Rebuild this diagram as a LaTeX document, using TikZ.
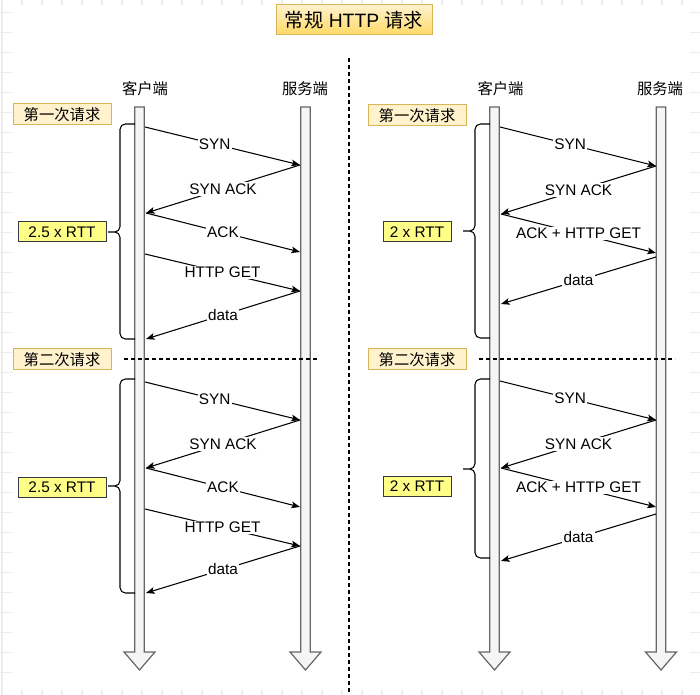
\documentclass[tikz,border=0pt]{standalone}
\usepackage{fontspec}
\setmainfont{Liberation Sans}
\newfontfamily\cjk{Noto Sans CJK SC}
\usepackage{xcolor}
\usetikzlibrary{arrows.meta}
\definecolor{barfill}{HTML}{F5F5F5}
\definecolor{bardraw}{HTML}{666666}
\definecolor{tagfill}{HTML}{FFF2CC}
\definecolor{tagdraw}{HTML}{D6B656}
\definecolor{titlelow}{HTML}{FFD966}
\definecolor{notefill}{HTML}{FFFF88}
\definecolor{notedraw}{HTML}{36393D}
\definecolor{gridgray}{HTML}{EDEDED}

\begin{document}
\begin{tikzpicture}[x=0.75pt,y=-0.75pt,font=\fontsize{11.5}{13}\selectfont,
>={Stealth[length=6.5pt,width=5pt,inset=1.5pt]},
gridline/.style={draw=gridgray,line width=0.9pt},
lifeline/.style={fill=barfill,draw=bardraw,line width=0.9pt},
titlebox/.style={draw=tagdraw,top color=tagfill,bottom color=titlelow,line width=0.75pt,minimum width=117pt,minimum height=22.5pt,inner sep=0pt,font=\fontsize{14.5}{17}\selectfont},
tag/.style={draw=tagdraw,fill=tagfill,line width=0.75pt,minimum width=73.5pt,minimum height=15.75pt,inner sep=0pt},
note/.style={draw=notedraw,fill=notefill,line width=0.75pt,minimum height=15pt,inner sep=0pt},
brace/.style={line width=0.8pt,rounded corners=4pt},
sep/.style={line width=0.8pt,dash pattern=on 3pt off 2.25pt},
msg/.style={->,line width=0.8pt},
lab/.style={fill=white,inner sep=1pt}]
\useasboundingbox (0,0) rectangle (700,695);
% page grid behind the white sheet
\foreach \gx in {2,22,...,682} \draw[gridline] (\gx,0) -- (\gx,695);
\foreach \gy in {12.7,32.7,...,692} \draw[gridline] (0,\gy) -- (700,\gy);
\fill[white] (13,5) rectangle (690,690);
\node[titlebox] (title) at (354,20) {{\cjk 常规} HTTP {\cjk 请求}};
\draw[sep] (349,58) -- (349,695);
% lifelines
\foreach \cx in {139.5,305.5,494.5,661}
  \draw[lifeline] ({\cx-4.75},107) -- ({\cx+4.75},107) -- ({\cx+4.75},652) -- ({\cx+15.5},652)
    -- (\cx,670) -- ({\cx-15.5},652) -- ({\cx-4.75},652) -- cycle;
\node (cli1) at (145,89) {\cjk 客户端};
\node (srv1) at (305,89) {\cjk 服务端};
\node (cli2) at (500.5,89) {\cjk 客户端};
\node (srv2) at (660,89) {\cjk 服务端};
% left: regular requests
\node[tag] (first1) at (62,114.5) {\cjk 第一次请求};
\node[tag] (second1) at (62,359.5) {\cjk 第二次请求};
\draw[sep] (124,359) -- (319,359);
\draw[brace] (135,124) -| (120,232) -- (108,232) (135,339) -| (120,232) -- (108,232);
\draw[brace] (135,379) -| (120,486) -- (108,486) (135,593) -| (120,486) -- (108,486);
\node[note,minimum width=66pt] (rtt1) at (62,232) {2.5 x RTT};
\node[note,minimum width=66pt] (rtt2) at (62,487) {2.5 x RTT};
\path (145,127) coordinate (l1a) (300,165) coordinate (l1b) (146,213) coordinate (l1c) (300,252) coordinate (l1d)
  (145,254) coordinate (l1e) (300,291) coordinate (l1f) (146,339) coordinate (l1g);
\path (145,382) coordinate (l2a) (300,420) coordinate (l2b) (146,468) coordinate (l2c) (300,507) coordinate (l2d)
  (145,509) coordinate (l2e) (300,546) coordinate (l2f) (146,593) coordinate (l2g);
\draw[msg] (l1a) -- node[lab,pos=.45] {SYN} (l1b);
\draw[msg] (l1b) -- node[lab] {SYN ACK} (l1c);
\draw[msg] (l1c) -- node[lab] {ACK} (l1d);
\draw[msg] (l1e) -- node[lab] {HTTP GET} (l1f);
\draw[msg] (l1f) -- node[lab] {data} (l1g);
\draw[msg] (l2a) -- node[lab,pos=.45] {SYN} (l2b);
\draw[msg] (l2b) -- node[lab] {SYN ACK} (l2c);
\draw[msg] (l2c) -- node[lab] {ACK} (l2d);
\draw[msg] (l2e) -- node[lab] {HTTP GET} (l2f);
\draw[msg] (l2f) -- node[lab] {data} (l2g);
% right: ACK sent together with HTTP GET
\node[tag] (first2) at (417,115.5) {\cjk 第一次请求};
\node[tag] (second2) at (417,359.5) {\cjk 第二次请求};
\draw[sep] (479,359) -- (675,359);
\draw[brace] (490,124) -| (475,231) -- (463,231) (490,338) -| (475,231) -- (463,231);
\draw[brace] (490,379) -| (475,469) -- (463,469) (490,558) -| (475,469) -- (463,469);
\node[note,minimum width=51pt] (rtt3) at (417,232) {2 x RTT};
\node[note,minimum width=51pt] (rtt4) at (417,486) {2 x RTT};
\path (500,127) coordinate (r1a) (656,166) coordinate (r1b) (501,214) coordinate (r1c) (656,253) coordinate (r1d)
  (656,257) coordinate (r1e) (501,304) coordinate (r1f);
\path (500,381) coordinate (r2a) (656,420) coordinate (r2b) (501,468) coordinate (r2c) (656,507) coordinate (r2d)
  (656,514) coordinate (r2e) (501,561) coordinate (r2f);
\draw[msg] (r1a) -- node[lab,pos=.45] {SYN} (r1b);
\draw[msg] (r1b) -- node[lab] {SYN ACK} (r1c);
\draw[msg] (r1c) -- node[lab] {ACK + HTTP GET} (r1d);
\draw[msg] (r1e) -- node[lab] {data} (r1f);
\draw[msg] (r2a) -- node[lab,pos=.45] {SYN} (r2b);
\draw[msg] (r2b) -- node[lab] {SYN ACK} (r2c);
\draw[msg] (r2c) -- node[lab] {ACK + HTTP GET} (r2d);
\draw[msg] (r2e) -- node[lab] {data} (r2f);
\end{tikzpicture}
\end{document}
